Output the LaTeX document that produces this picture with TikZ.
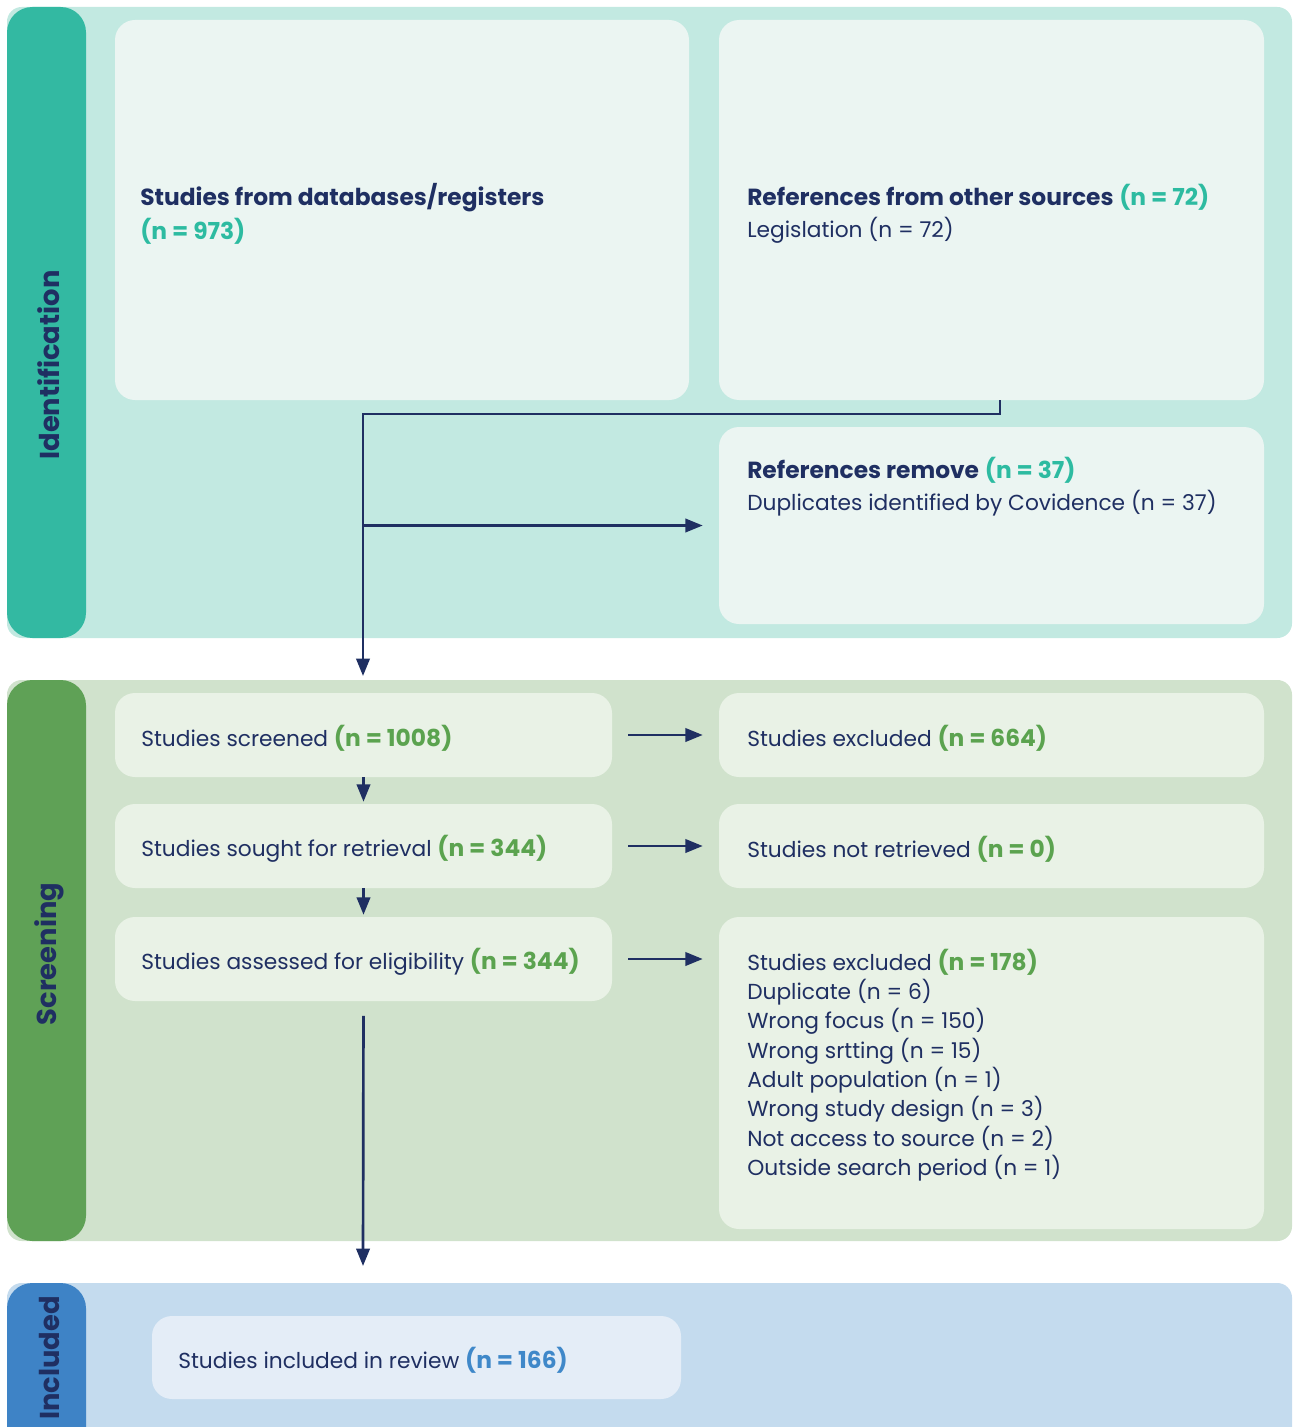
\documentclass[tikz,border=0pt]{standalone}
\usepackage{fontspec}
\setmainfont{Poppins}
\usetikzlibrary{arrows.meta}

\definecolor{navy}{RGB}{31,47,98}
\definecolor{idband}{RGB}{194,233,225}
\definecolor{idtab}{RGB}{51,185,162}
\definecolor{idbox}{RGB}{235,245,242}
\definecolor{idnum}{RGB}{45,187,161}
\definecolor{scband}{RGB}{208,226,204}
\definecolor{sctab}{RGB}{95,161,86}
\definecolor{scbox}{RGB}{233,242,230}
\definecolor{scnum}{RGB}{91,163,79}
\definecolor{inband}{RGB}{196,219,238}
\definecolor{intab}{RGB}{62,131,198}
\definecolor{inbox}{RGB}{228,237,247}
\definecolor{innum}{RGB}{63,136,201}

% bold run, a little larger than the regular text
\newcommand{\bt}[1]{{\fontsize{17.5}{24}\selectfont\bfseries #1}}

\begin{document}
\begin{tikzpicture}[x=0.75pt,y=0.75pt,yscale=-1,xscale=1,
  band/.style={rounded corners=11pt},
  tab/.style={rounded corners=19pt},
  box/.style={rounded corners=15pt, inner sep=0pt, draw=none},
  txt/.style={anchor=west, inner sep=0pt, align=left, text=navy, font=\fontsize{16.3}{24}\selectfont},
  tablbl/.style={rotate=90, inner sep=0pt, text=navy, font=\fontsize{20.5}{22}\selectfont\bfseries},
  link/.style={draw=navy, line width=2pt},
  flow/.style={link, -{Triangle[length=13pt,width=10pt]}},
]
\useasboundingbox (0,0) rectangle (1293,1427);

%Shape: Band Identification
\fill[idband, band] (7,7) rectangle (1292,638);
\fill[idtab, tab] (7,7) rectangle (86,638);
%Shape: Band Screening
\fill[scband, band] (7,680) rectangle (1292,1241);
\fill[sctab, tab] (7,680) rectangle (86,1241);
%Shape: Band Included
\fill[inband, band] (7,1283) rectangle (1292,1460);
\fill[intab, tab] (7,1283) rectangle (86,1460);

% Tab labels
\node[tablbl] (idlbl) at (49,365) {Identification};
\node[tablbl] (sclbl) at (49,954) {Screening};
\node[tablbl] (inlbl) at (49,1358) {Included};

%Shape: Boxes Identification
\node[box, fill=idbox, minimum width=430.5pt, minimum height=285pt] (dbs) at (402,210) {};
\node[box, fill=idbox, minimum width=408.75pt, minimum height=285pt] (refs) at (991.5,210) {};
\node[box, fill=idbox, minimum width=408.75pt, minimum height=147.75pt] (dup) at (991.5,525.5) {};

%Shape: Boxes Screening
\node[box, fill=scbox, minimum width=372.75pt, minimum height=63pt] (screen) at (363.5,735) {};
\node[box, fill=scbox, minimum width=372.75pt, minimum height=63pt] (sought) at (363.5,846) {};
\node[box, fill=scbox, minimum width=372.75pt, minimum height=63pt] (assess) at (363.5,959) {};
\node[box, fill=scbox, minimum width=408.75pt, minimum height=63pt] (excl) at (991.5,735) {};
\node[box, fill=scbox, minimum width=408.75pt, minimum height=63pt] (notret) at (991.5,846) {};
\node[box, fill=scbox, minimum width=408.75pt, minimum height=234pt] (excltwo) at (991.5,1073) {};

%Shape: Box Included
\node[box, fill=inbox, minimum width=396.75pt, minimum height=62.25pt] (incl) at (416.5,1357.5) {};

% Text Node
\node[txt] (dbstxt) at (140,214) {\bt{Studies from databases/registers}\\[2pt]\textcolor{idnum}{\bt{(n = 973)}}};
% Text Node
\node[txt] (refstxt) at (747,214) {\bt{References from other sources} \textcolor{idnum}{\bt{(n = 72)}}\\Legislation (n = 72)};
% Text Node
\node[txt] (duptxt) at (747,487) {\bt{References remove} \textcolor{idnum}{\bt{(n = 37)}}\\Duplicates identified by Covidence (n = 37)};
% Text Node
\node[txt] (screentxt) at (141,738) {Studies screened \textcolor{scnum}{\bt{(n = 1008)}}};
\node[txt] (soughttxt) at (141,849) {Studies sought for retrieval \textcolor{scnum}{\bt{(n = 344)}}};
\node[txt] (assesstxt) at (141,962) {Studies assessed for eligibility \textcolor{scnum}{\bt{(n = 344)}}};
\node[txt] (excltxt) at (747,738) {Studies excluded \textcolor{scnum}{\bt{(n = 664)}}};
\node[txt] (notrettxt) at (747,849) {Studies not retrieved \textcolor{scnum}{\bt{(n = 0)}}};
\node[txt, font=\fontsize{16.3}{22}\selectfont] (excltwotxt) at (747,1065) {Studies excluded \textcolor{scnum}{\bt{(n = 178)}}\\
  Duplicate (n = 6)\\
  Wrong focus (n = 150)\\
  Wrong srtting (n = 15)\\
  Adult population (n = 1)\\
  Wrong study design (n = 3)\\
  Not access to source (n = 2)\\
  Outside search period (n = 1)};
% Text Node
\node[txt] (incltxt) at (178,1360) {Studies included in review \textcolor{innum}{\bt{(n = 166)}}};

% Connectors
\coordinate (split) at (363,414);
\coordinate (scrin) at (363,676);
\coordinate (inclin) at (363,1266);
\draw[flow] ([xshift=6.4pt]refs.south) |- (split) -- (scrin);
\draw[flow, shorten >=12pt] (split |- dup.west) -- (dup.west);
\draw[flow, shorten <=12pt, shorten >=12pt] (screen.east) -- (excl.west);
\draw[flow, shorten <=12pt, shorten >=12pt] (sought.east) -- (notret.west);
\draw[flow, shorten <=12pt, shorten >=12pt] (assess.east) -- (assess.east -| excltwo.west);
\draw[flow, shorten >=1.5pt] (screen.south) -- (sought.north);
\draw[flow, shorten >=1.5pt] (sought.south) -- (assess.north);
\draw[flow, shorten <=11pt] (assess.south) -- (inclin);

\end{tikzpicture}
\end{document}
